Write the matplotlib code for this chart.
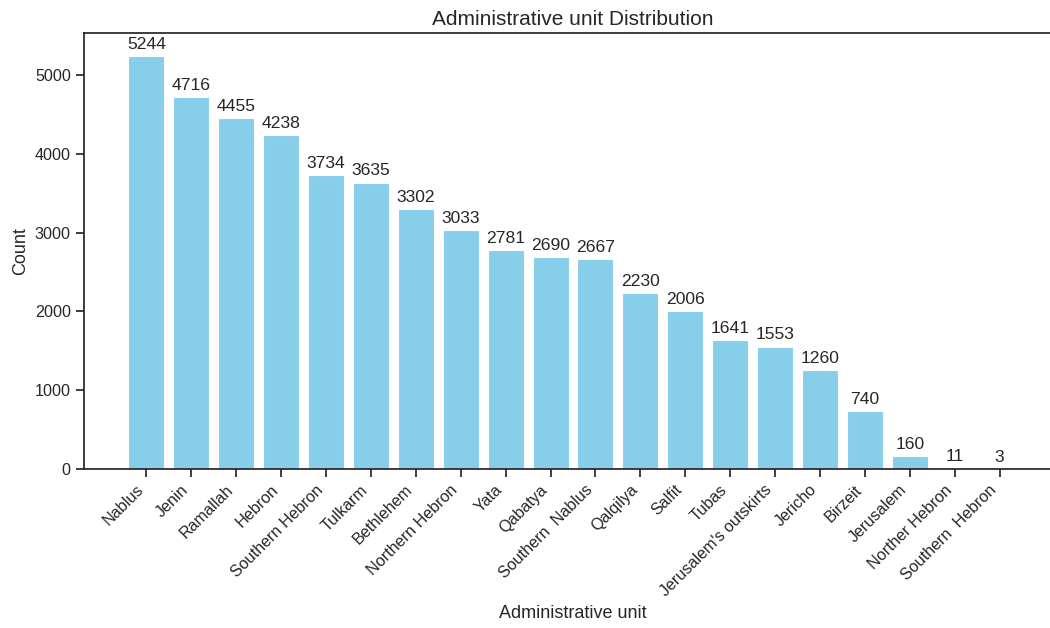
import matplotlib
matplotlib.use("Agg")
import matplotlib.pyplot as plt
import seaborn as sns

units = ["Nablus", "Jenin", "Ramallah", "Hebron", "Southern Hebron", "Tulkarm",
         "Bethlehem", "Northern Hebron", "Yata", "Qabatya", "Southern  Nablus",
         "Qalqilya", "Salfit", "Tubas", "Jerusalem's outskirts", "Jericho",
         "Birzeit", "Jerusalem", "Norther Hebron", "Southern  Hebron"]
counts = [5244, 4716, 4455, 4238, 3734, 3635, 3302, 3033, 2781, 2690, 2667,
          2230, 2006, 1641, 1553, 1260, 740, 160, 11, 3]

sns.set_theme(style="ticks")
plt.rcParams['font.family'] = ['Liberation Sans', 'DejaVu Sans']

fig = plt.figure(figsize=(10.5, 6.28), dpi=100)
ax = fig.add_axes([84/1050, 1-469/628, (1062-84)/1050, (469-33)/628])

bars = ax.bar(units, counts, color="skyblue", width=0.8, edgecolor="white", linewidth=0.8)
ax.bar_label(bars, labels=[str(c) for c in counts], padding=3, fontsize=12.6, color="#262626")

ax.set_xlim(-1.39, 20.39)
ax.set_ylim(0, 5533)
ax.set_xticks(range(len(units)))
ax.set_xticklabels(units, rotation=45, ha="right", rotation_mode="default", fontsize=11.6)
ax.tick_params(axis="y", labelsize=11.6)
ax.set_title("Administrative unit Distribution", fontsize=15)
ax.set_xlabel("Administrative unit", fontsize=13)
ax.set_ylabel("Count", fontsize=13)

fig.savefig("out.png", dpi=100)
